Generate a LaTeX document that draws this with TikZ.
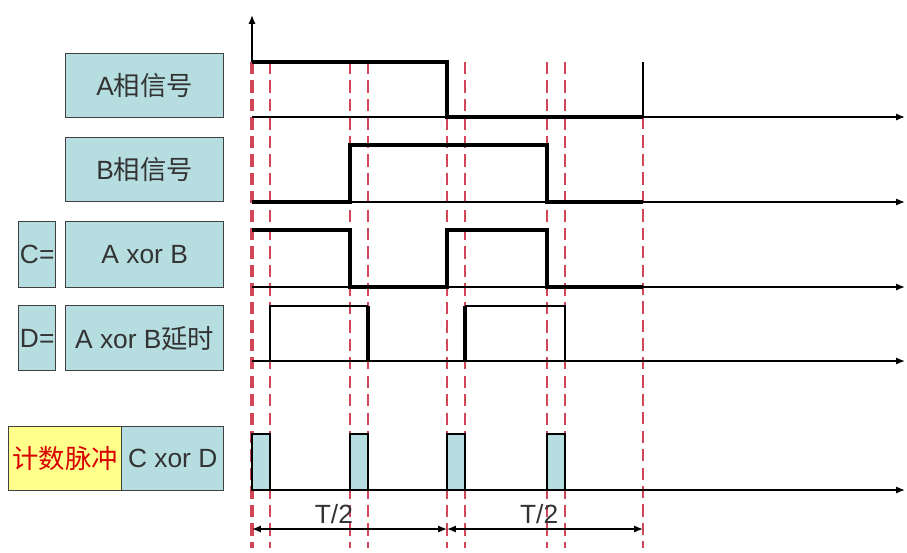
\documentclass[tikz,border=0pt]{standalone}
\usepackage{fontspec}
\setmainfont{Liberation Sans}
\newfontfamily\cjk{Noto Sans CJK SC}
\usetikzlibrary{arrows.meta}
\definecolor{boxblue}{RGB}{182,221,224}
\definecolor{boxyellow}{RGB}{255,255,140}
\definecolor{dashred}{RGB}{210,70,90}
\begin{document}
\begin{tikzpicture}[x=0.02cm,y=-0.02cm,
    lbl/.style={draw=black!75, fill=boxblue, line width=0.8pt, anchor=north west,
      inner sep=0pt, font=\fontsize{15}{17}\selectfont, text=black!80},
    axis/.style={line width=0.8pt, -{Latex[length=5pt,width=4pt]}},
    sig/.style={line width=2pt},
    thin sig/.style={line width=0.9pt},
    red line/.style={draw=dashred, line width=0.9pt, dash pattern=on 7pt off 3.5pt},
    pulse/.style={draw=black, fill=boxblue, line width=0.9pt}]
  \useasboundingbox (0,0) rectangle (907,552);

  % labels on the left
  \node[lbl, minimum width=3.16cm, minimum height=1.28cm] (a) at (65,53) {A{\cjk 相信号}};
  \node[lbl, minimum width=3.16cm, minimum height=1.28cm] (b) at (65,137) {B{\cjk 相信号}};
  \node[lbl, minimum width=0.74cm, minimum height=1.32cm] (ceq) at (18,221) {C=};
  \node[lbl, minimum width=3.16cm, minimum height=1.32cm] (c) at (65,221) {A xor B};
  \node[lbl, minimum width=0.74cm, minimum height=1.30cm] (deq) at (18,305) {D=};
  \node[lbl, minimum width=3.16cm, minimum height=1.30cm] (d) at (65,305) {A xor B{\cjk 延时}};
  \node[lbl, fill=boxyellow, text=red!85!black, minimum width=2.26cm, minimum height=1.28cm] (cnt) at (8,426) {\cjk 计数脉冲};
  \node[lbl, minimum width=2.04cm, minimum height=1.28cm] (cxd) at (121,426) {C xor D};

  % dashed guides
  \draw[red line, line width=2pt] (252,62) -- (252,548);
  \foreach \x in {270,350,368,447,465,547,565}
    \draw[red line] (\x,62) -- (\x,548);
  \draw[line width=0.9pt] (643,62) -- (643,117);
  \draw[red line] (643,117) -- (643,548);

  % axes
  \draw[axis] (252,62) -- (252,15);
  \foreach \y in {117,202,287,361,490}
    \draw[axis] (252,\y) -- (905,\y);

  % A
  \draw[sig] (252,62) -- (447,62) -- (447,117) -- (643,117);
  % B
  \draw[sig] (252,202) -- (350,202) -- (350,145) -- (547,145) -- (547,202) -- (643,202);
  % C
  \draw[sig] (252,230) -- (350,230) -- (350,287) -- (447,287) -- (447,230) -- (547,230) -- (547,287) -- (643,287);
  % D
  \draw[thin sig] (270,361) -- (270,306) -- (368,306);
  \draw[sig] (368,306) -- (368,361);
  \draw[sig] (465,361) -- (465,306);
  \draw[thin sig] (465,306) -- (565,306) -- (565,361);

  % counting pulses
  \foreach \x in {252,350,447,547}
    \draw[pulse] (\x,490) rectangle ++(18,-56);

  % half periods
  \coordinate (t0) at (252,529);
  \coordinate (t1) at (447,529);
  \coordinate (t2) at (643,529);
  \draw[line width=0.8pt, {Latex[length=5pt,width=4pt]}-{Latex[length=5pt,width=4pt]}] (t0) -- (t1)
    node[pos=0.42, above=-1pt, font=\fontsize{15}{17}\selectfont, text=black!80] (h1) {T/2};
  \draw[line width=0.8pt, {Latex[length=5pt,width=4pt]}-{Latex[length=5pt,width=4pt]}] (t1) -- (t2)
    node[pos=0.47, above=-1pt, font=\fontsize{15}{17}\selectfont, text=black!80] (h2) {T/2};
\end{tikzpicture}
\end{document}
